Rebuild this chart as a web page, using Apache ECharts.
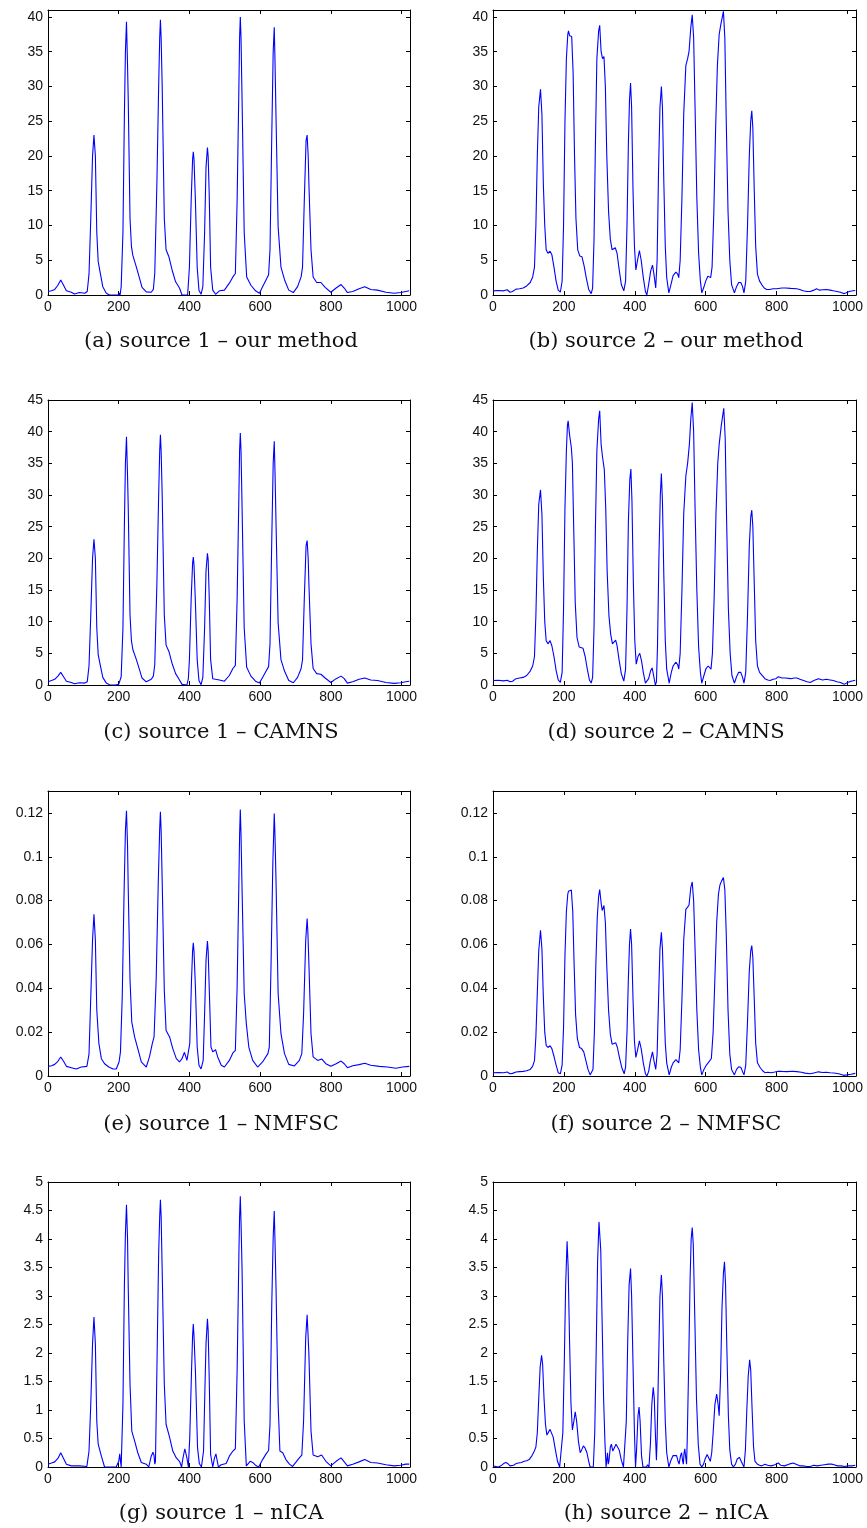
<!DOCTYPE html>
<html>
<head>
<meta charset="utf-8">
<script src="https://cdn.jsdelivr.net/npm/echarts@6/dist/echarts.min.js"></script>
<style>
html,body{margin:0;padding:0;background:#fff;}
#chart{width:867px;height:1528px;}
</style>
</head>
<body>
<div id="chart"></div>
<script>
// ---------------- data ----------------
const captions = ['(a) source 1 – our method', '(b) source 2 – our method',
  '(c) source 1 – CAMNS', '(d) source 2 – CAMNS',
  '(e) source 1 – NMFSC', '(f) source 2 – NMFSC',
  '(g) source 1 – nICA', '(h) source 2 – nICA'];
const xMax = 1024;
const xStep = 200;
const yMax = [41, 41, 45, 45, 0.13, 0.13, 5, 5];
const yStep = [5, 5, 5, 5, 0.02, 0.02, 0.5, 0.5];

const src1Ours = [[0,0.5],[10,0.6],[19,0.8],[28,1.4],[36,2.15],[44,1.4],[52,0.6],[66,0.4],[75,0.15],[89,0.35],[104,0.25],[111,0.5],[116,3],[121,11],[126,20],[130,23],[134,20],[138,9],[142,4.8],[148,3.1],[155,1.2],[165,0.25],[174,0],[200,0],[202,0.3],[204,0],[207,1.2],[212,9],[216,25.6],[219,35],[222,39.3],[225,33],[227,28],[232,11],[236,7],[240,5.7],[250,4],[259,2.4],[266,1.1],[278,0.45],[292,0.4],[298,0.8],[302,3.1],[308,16],[313,30],[316,37],[318,39.6],[320,37],[323,30],[329,11],[334,6.5],[342,5.5],[351,3.6],[361,1.9],[372,1],[379,0],[395,0],[400,4],[405,13.6],[409,19.5],[411,20.6],[413,19.5],[417,13.6],[422,4],[427,0.7],[433,0.1],[438,1.2],[443,9],[447,18.4],[451,21.2],[453,20],[456,14.6],[460,4],[466,0.7],[474,0.1],[485,0.6],[499,0.7],[513,1.7],[523,2.6],[530,3.1],[535,13.6],[540,30],[542,37],[544,40],[546,37],[549,28],[555,9],[562,2.6],[574,1.4],[587,0.6],[598,0.25],[607,1.2],[617,2.2],[624,2.9],[628,6.5],[633,23],[637,35],[640,38.5],[642,34],[645,25.6],[651,9.8],[659,4],[669,2.2],[681,0.7],[694,0.35],[706,1.2],[716,2.6],[720,4],[725,13.6],[730,22.2],[733,23],[736,20],[738,16],[744,6.5],[750,2.6],[760,1.8],[772,1.8],[784,1.1],[800,0.4],[815,1],[829,1.5],[838,1],[847,0.35],[862,0.5],[880,0.9],[896,1.2],[913,0.8],[932,0.7],[956,0.4],[979,0.25],[998,0.35],[1012,0.5],[1022,0.6]];

const src2Ours = [[0,0.6],[15,0.65],[30,0.6],[40,0.75],[48,0.4],[55,0.5],[65,0.85],[75,0.9],[85,1.0],[95,1.3],[105,1.8],[112,2.6],[117,4],[121,10],[125,20],[129,27],[134,29.6],[138,26],[142,16],[146,10],[150,6.5],[155,6],[161,6.3],[166,5.8],[172,4],[178,2],[184,0.7],[190,0.4],[195,2],[199,10],[203,25],[207,34],[211,37.5],[213,38],[216,37.3],[222,37.2],[226,32],[230,20],[234,11],[239,6.5],[245,5.6],[251,5.5],[257,4.2],[263,2.5],[270,0.8],[277,0.2],[281,1],[285,8],[289,22],[293,34],[298,38],[301,38.8],[305,35],[309,34],[313,34.3],[317,30],[321,20],[326,12],[331,8],[336,6.5],[341,6.4],[345,6.8],[350,6],[355,4],[362,1.5],[369,0.6],[374,2],[378,10],[382,22],[385,28],[388,30.5],[391,27],[395,15],[399,7],[403,3.6],[407,4.8],[413,6.4],[418,5],[424,2.5],[430,0.5],[434,0],[439,1.5],[445,3.5],[450,4.3],[454,3],[459,1],[463,5],[467,18],[471,27],[475,30],[478,27],[482,16],[486,7],[490,2.5],[496,0.3],[502,1.5],[508,2.8],[516,3.3],[521,3],[524,2.5],[528,5],[533,14],[538,26],[544,33],[549,34],[553,35],[558,38.5],[562,40.3],[566,37],[570,27],[575,14],[580,6],[585,2],[589,0.3],[594,1],[600,2],[606,2.7],[610,2.8],[614,2.5],[618,4],[623,12],[628,24],[633,33],[638,37.5],[643,39],[650,40.8],[654,37],[658,25],[663,12],[668,5],[673,1.5],[681,0.3],[687,1.2],[693,1.8],[699,1.8],[704,1.2],[708,0.3],[713,2],[718,10],[723,20],[727,25],[730,26.5],[733,24],[737,15],[741,7],[746,3],[752,2],[758,1.5],[765,1],[772,0.8],[780,0.8],[790,0.9],[800,0.9],[805,1.1],[815,1.0],[825,1.0],[840,0.95],[857,0.9],[865,0.8],[875,0.6],[885,0.5],[895,0.5],[905,0.7],[913,0.9],[920,0.7],[930,0.75],[940,0.8],[951,0.7],[960,0.6],[970,0.5],[980,0.4],[989,0.2],[995,0.3],[1005,0.5],[1015,0.6],[1022,0.65]];

const src1Camns = [[0,0.5],[10,0.7],[19,0.9],[28,1.4],[36,2.0],[44,1.3],[52,0.6],[66,0.4],[75,0.2],[89,0.35],[104,0.3],[111,0.5],[116,3],[121,11],[126,20],[130,23],[134,20],[138,9],[142,4.8],[148,3.1],[155,1.2],[165,0.3],[174,0.05],[190,0],[200,0.1],[204,0.4],[207,1.3],[212,9],[216,25],[219,35],[222,39.2],[225,33],[227,28],[232,11],[236,7],[240,5.6],[250,4],[259,2.4],[266,1.1],[278,0.5],[292,0.9],[298,1.4],[302,3.2],[308,16],[313,30],[316,37],[318,39.5],[320,37],[323,30],[329,11],[334,6.3],[342,5.3],[351,3.4],[361,1.8],[372,0.8],[379,0.1],[393,0],[397,1],[400,4],[405,13.6],[409,19.2],[411,20.2],[413,19],[417,13],[422,4],[427,0.7],[433,0.05],[438,1.2],[443,9],[447,18],[451,20.8],[453,19.8],[456,14],[460,4],[466,1.0],[474,0.9],[485,0.8],[499,0.6],[513,1.5],[523,2.6],[530,3.1],[535,13.6],[540,30],[542,37],[544,39.8],[546,37],[549,28],[555,9],[562,2.8],[574,1.4],[587,0.6],[598,0.3],[607,1.2],[617,2.2],[624,2.9],[628,6.5],[633,23],[637,35],[640,38.5],[642,34],[645,25.6],[651,9.8],[659,4],[669,2.2],[681,0.7],[694,0.35],[706,1.2],[716,2.6],[720,4],[725,13.6],[730,22],[733,22.8],[736,20],[738,16],[744,6.5],[750,2.6],[760,1.8],[772,1.7],[784,1.1],[800,0.4],[815,1],[829,1.4],[838,1],[847,0.3],[862,0.5],[880,0.9],[896,1.1],[913,0.8],[932,0.7],[956,0.4],[979,0.25],[998,0.35],[1012,0.5],[1022,0.6]];

const src2Camns = [[0,0.7],[15,0.75],[30,0.65],[40,0.75],[48,0.5],[55,0.6],[65,1.0],[75,1.1],[85,1.2],[95,1.5],[105,2.2],[112,3],[117,4.5],[121,11],[125,21],[129,28.5],[134,30.8],[138,27],[142,17],[146,10],[150,7],[155,6.5],[161,7],[166,6.2],[172,4.5],[178,2.3],[184,0.8],[190,0.4],[195,2],[199,12],[203,28],[207,37],[210,41],[212,41.7],[216,39.5],[221,37.5],[224,35],[228,24],[232,13],[237,7.5],[243,6],[248,5.8],[254,5.8],[260,4.5],[266,2.5],[272,0.8],[277,0.3],[281,1.2],[285,9],[289,25],[293,37],[298,42],[301,43.3],[305,38],[309,36],[314,34],[318,28],[322,18],[327,11],[332,8],[337,6.5],[341,6.6],[346,7.1],[350,6.2],[355,4.2],[362,1.8],[369,0.6],[374,2.5],[378,12],[382,26],[386,32.5],[389,34.1],[392,29],[396,16],[400,7],[404,3.3],[409,4.5],[414,5],[419,3.8],[424,2],[430,0.3],[434,0],[439,1],[445,2.3],[449,2.7],[453,1.5],[458,0],[461,0.5],[464,6],[468,20],[472,30],[475,33.4],[478,29],[482,17],[486,7],[490,2.5],[497,0.3],[503,2],[508,3],[516,3.6],[521,3.2],[524,2.5],[528,5],[533,15],[538,27],[544,33],[549,35],[554,38],[558,42],[562,44.6],[566,40],[570,28],[575,15],[580,6],[585,2],[589,0.3],[595,1.5],[601,2.6],[607,3],[612,3],[615,2.5],[619,5],[624,14],[629,27],[634,35],[638,38],[644,41],[651,43.7],[655,39],[659,26],[664,12],[669,5],[674,1.5],[681,0.3],[687,1.3],[693,2],[699,2],[704,1.2],[708,0.3],[713,2],[718,11],[723,22],[727,26.5],[730,27.6],[733,25],[737,16],[741,7],[746,3],[752,2],[758,1.6],[767,1.0],[775,0.8],[782,0.7],[790,0.9],[798,1.0],[805,1.3],[815,1.1],[825,1.1],[840,1.0],[850,1.1],[857,1.1],[866,0.9],[876,0.7],[886,0.5],[895,0.4],[905,0.7],[918,1.0],[930,0.8],[940,0.9],[951,0.8],[960,0.7],[970,0.5],[980,0.4],[991,0.1],[1000,0.4],[1010,0.6],[1022,0.75]];

const src1Nmfsc = [[0,0.0044],[10,0.0047],[19,0.0053],[28,0.0067],[36,0.0087],[44,0.0067],[52,0.0044],[66,0.0038],[80,0.0032],[94,0.0041],[110,0.0044],[116,0.010],[121,0.036],[126,0.062],[130,0.0738],[134,0.062],[138,0.030],[144,0.0148],[151,0.0079],[160,0.0056],[172,0.0041],[184,0.0032],[193,0.0032],[201,0.0064],[205,0.011],[210,0.036],[215,0.082],[219,0.112],[222,0.121],[225,0.105],[227,0.085],[232,0.044],[237,0.0246],[245,0.0178],[254,0.0125],[264,0.0064],[278,0.0041],[287,0.0087],[295,0.0148],[300,0.0178],[306,0.044],[312,0.089],[316,0.113],[318,0.1205],[320,0.112],[323,0.089],[329,0.039],[334,0.0208],[344,0.0178],[353,0.0125],[363,0.0079],[372,0.0064],[379,0.0079],[386,0.0108],[393,0.0071],[397,0.0064],[401,0.0148],[406,0.044],[409,0.057],[411,0.0608],[413,0.057],[417,0.0406],[422,0.0132],[427,0.0049],[433,0.0032],[439,0.0071],[443,0.0284],[447,0.0528],[451,0.0616],[453,0.057],[456,0.0406],[461,0.0132],[466,0.011],[474,0.012],[480,0.0087],[490,0.0049],[499,0.0041],[513,0.0071],[523,0.0105],[530,0.0117],[535,0.0406],[540,0.089],[542,0.110],[544,0.1215],[546,0.110],[549,0.0847],[555,0.0376],[561,0.0239],[568,0.0132],[579,0.0071],[593,0.0041],[607,0.0064],[622,0.0102],[626,0.0132],[631,0.0513],[636,0.0969],[640,0.1197],[642,0.110],[645,0.089],[651,0.0376],[659,0.0193],[669,0.0102],[681,0.0053],[697,0.0046],[711,0.0071],[718,0.0102],[723,0.0284],[729,0.0619],[733,0.0718],[735,0.066],[738,0.0513],[744,0.0193],[750,0.0087],[763,0.0071],[774,0.0078],[786,0.0056],[800,0.0044],[815,0.0056],[829,0.0068],[838,0.0056],[847,0.0038],[862,0.0047],[880,0.0052],[896,0.0058],[913,0.0049],[937,0.0044],[960,0.0041],[984,0.0035],[1003,0.0041],[1022,0.0044]];

const src2Nmfsc = [[0,0.0015],[15,0.0016],[30,0.0015],[40,0.0018],[48,0.001],[55,0.0012],[65,0.0018],[75,0.002],[85,0.0021],[95,0.0024],[105,0.003],[112,0.0045],[117,0.007],[121,0.018],[125,0.038],[129,0.057],[134,0.0665],[138,0.058],[142,0.036],[146,0.02],[150,0.014],[155,0.013],[161,0.0138],[166,0.0125],[172,0.009],[178,0.005],[184,0.0015],[190,0.001],[195,0.005],[199,0.022],[203,0.055],[207,0.075],[211,0.083],[213,0.0843],[217,0.0838],[221,0.0848],[225,0.075],[229,0.05],[233,0.028],[238,0.017],[244,0.013],[250,0.0125],[256,0.011],[262,0.007],[268,0.003],[274,0.0005],[278,0.0005],[282,0.003],[286,0.02],[290,0.05],[294,0.072],[298,0.082],[301,0.085],[305,0.079],[308,0.0755],[313,0.0778],[317,0.07],[321,0.05],[326,0.03],[331,0.019],[336,0.0145],[341,0.0145],[346,0.0152],[351,0.013],[356,0.009],[363,0.004],[370,0.001],[374,0.004],[378,0.02],[382,0.045],[385,0.06],[388,0.067],[391,0.06],[395,0.035],[399,0.016],[403,0.0085],[408,0.012],[413,0.016],[418,0.0125],[424,0.006],[430,0.001],[434,0],[439,0.002],[444,0.007],[450,0.011],[454,0.007],[459,0.003],[463,0.01],[467,0.035],[471,0.058],[475,0.0655],[478,0.058],[482,0.035],[486,0.015],[490,0.006],[497,0.0005],[503,0.004],[508,0.006],[516,0.0075],[521,0.0068],[524,0.006],[528,0.012],[533,0.035],[538,0.062],[544,0.076],[549,0.077],[553,0.078],[558,0.086],[562,0.0885],[566,0.08],[570,0.058],[575,0.03],[580,0.012],[585,0.004],[589,0.0005],[595,0.003],[602,0.005],[608,0.0062],[612,0.006],[616,0.008],[621,0.02],[626,0.045],[631,0.07],[636,0.083],[640,0.087],[645,0.089],[650,0.0905],[654,0.085],[658,0.065],[663,0.03],[668,0.01],[673,0.003],[681,0.0005],[687,0.003],[693,0.0042],[699,0.004],[704,0.002],[708,0.0005],[713,0.005],[718,0.025],[723,0.048],[727,0.057],[730,0.0595],[733,0.054],[737,0.035],[741,0.015],[746,0.006],[753,0.004],[760,0.0025],[767,0.0015],[775,0.0017],[785,0.0015],[795,0.0018],[805,0.0022],[815,0.0021],[830,0.002],[845,0.0022],[857,0.002],[870,0.0017],[880,0.0013],[895,0.001],[905,0.0014],[918,0.0019],[930,0.0016],[940,0.0017],[951,0.0015],[962,0.0014],[975,0.001],[989,0.0003],[998,0.0005],[1010,0.0008],[1022,0.0012]];

const src1Nica = [[0,0.05],[10,0.07],[19,0.09],[28,0.15],[36,0.25],[44,0.15],[52,0.05],[66,0.02],[89,0.02],[110,0.01],[116,0.28],[121,1.1],[126,2.16],[130,2.63],[134,2.16],[138,0.8],[142,0.4],[151,0.19],[160,0],[193,0],[200,0.1],[203,0.23],[205,0.1],[207,0],[212,1.1],[216,3.15],[219,4.1],[222,4.6],[225,4.0],[227,3.15],[232,1.45],[237,0.63],[245,0.46],[254,0.25],[264,0.08],[278,0.05],[285,0],[292,0.19],[297,0.26],[300,0.2],[302,0.05],[304,0.1],[308,1.69],[313,3.74],[316,4.4],[318,4.69],[320,4.4],[323,3.45],[329,1.45],[334,0.75],[344,0.52],[353,0.28],[363,0.16],[372,0.1],[378,0],[381,0.13],[387,0.32],[393,0.16],[397,0],[401,0.52],[406,1.69],[409,2.3],[411,2.51],[413,2.3],[417,1.69],[423,0.34],[428,0.06],[434,0],[440,0.28],[444,1.4],[447,2.16],[451,2.6],[453,2.4],[456,1.57],[460,0.22],[466,0],[471,0.16],[475,0.23],[479,0.1],[482,0],[490,0.04],[504,0.06],[513,0.19],[523,0.28],[530,0.32],[535,1.69],[540,3.74],[542,4.4],[544,4.75],[546,4.3],[549,3.45],[555,0.81],[561,0.02],[565,0],[572,0.1],[579,0.08],[589,0.02],[596,0],[607,0.13],[617,0.23],[624,0.29],[628,0.75],[633,2.86],[637,4.03],[640,4.49],[642,4.0],[645,3.15],[651,1.1],[656,0.28],[664,0.25],[673,0.13],[683,0.05],[692,0.01],[702,0.09],[711,0.16],[718,0.21],[723,0.81],[729,2.27],[733,2.67],[735,2.4],[738,1.98],[744,0.63],[750,0.21],[763,0.18],[774,0.21],[786,0.1],[800,0.02],[815,0.1],[829,0.16],[838,0.09],[847,0.02],[862,0.05],[880,0.09],[896,0.13],[913,0.08],[932,0.07],[956,0.04],[979,0.02],[998,0.03],[1012,0.05],[1022,0.05]];

const src2Nica = [[0,0.02],[8,0.01],[15,0],[22,0.02],[30,0.06],[36,0.08],[42,0.06],[48,0.02],[52,0],[58,0.03],[65,0.06],[72,0.07],[80,0.08],[88,0.1],[95,0.11],[102,0.13],[110,0.2],[116,0.27],[121,0.35],[125,0.6],[129,1.2],[133,1.75],[137,1.96],[140,1.8],[144,1.2],[148,0.75],[152,0.56],[156,0.58],[161,0.66],[165,0.64],[170,0.52],[176,0.3],[182,0.1],[188,0],[193,0],[197,0.6],[201,1.8],[205,3.2],[209,3.96],[212,3.5],[216,2.2],[220,1.1],[224,0.65],[228,0.8],[232,0.97],[236,0.8],[241,0.45],[246,0.25],[250,0.3],[255,0.37],[260,0.33],[265,0.25],[270,0.1],[274,0],[283,0],[287,0.6],[291,2],[295,3.6],[299,4.3],[301,4.33],[304,3.8],[308,2.5],[312,1.2],[316,0.4],[319,0],[321,0],[323,0.25],[325,0.05],[327,0.1],[331,0.35],[334,0.4],[338,0.28],[342,0.3],[347,0.4],[351,0.38],[356,0.3],[362,0.12],[368,0],[372,0],[376,0.8],[380,2.2],[384,3.2],[388,3.48],[391,3],[395,1.8],[399,0.6],[402,0],[405,0.3],[409,0.9],[412,1.05],[415,0.8],[419,0.2],[423,0],[433,0],[436,0.04],[438,0.06],[440,0],[444,0.4],[448,1.1],[452,1.4],[455,1.2],[458,0.6],[461,0.12],[463,0.5],[467,1.8],[471,3],[475,3.37],[478,3],[482,1.8],[486,0.8],[490,0.25],[496,0],[502,0.12],[508,0.2],[513,0.22],[518,0.2],[522,0.1],[525,0.05],[529,0.2],[532,0.25],[535,0.1],[537,0.05],[539,0.25],[541,0.32],[544,0.15],[546,0.05],[548,0.5],[552,1.8],[556,3.3],[559,4.0],[562,4.2],[565,3.9],[569,2.7],[574,1.2],[579,0.4],[584,0.05],[589,0],[594,0.05],[599,0.15],[604,0.22],[608,0.2],[613,0.1],[617,0.25],[621,0.6],[626,1.1],[631,1.28],[635,1.1],[638,0.9],[642,1.6],[646,2.8],[650,3.4],[653,3.6],[656,3.2],[660,2],[664,0.9],[668,0.3],[673,0.05],[678,0],[684,0.05],[689,0.14],[695,0.17],[700,0.15],[704,0.05],[708,0],[712,0.3],[716,1],[720,1.6],[724,1.88],[727,1.7],[731,1],[735,0.35],[739,0.1],[742,0.12],[746,0.05],[752,0.03],[758,0.02],[767,0.05],[775,0.03],[785,0.02],[795,0.04],[805,0.07],[812,0.03],[822,0.02],[835,0.05],[847,0.07],[855,0.05],[865,0.02],[875,0.02],[885,0.01],[895,0.01],[905,0.03],[915,0.02],[925,0.03],[935,0.04],[946,0.05],[955,0.05],[962,0.04],[972,0.02],[982,0.02],[992,0.01],[1002,0.02],[1012,0.02],[1022,0.03]];

const seriesData = [src1Ours, src2Ours, src1Camns, src2Camns, src1Nmfsc, src2Nmfsc, src1Nica, src2Nica];

// ---------------- layout ----------------
const colLeft = [48, 493];
const colWidth = [362, 363];
const rowTop = [10, 400, 791, 1182];
const plotH = 285;
const capX = [221, 666];
const capY = [342, 733, 1125, 1514];

const chart = echarts.init(document.getElementById('chart'), null, {renderer: 'canvas'});
const grids = [], xAxes = [], yAxes = [], series = [], graphics = [];
const lineC = '#000';
const labelFont = {fontFamily: '"Liberation Sans", Arial, sans-serif', fontSize: 14, color: '#111'};
const fmt = v => String(+(+v).toFixed(4));

for (let i = 0; i < 8; i++) {
  const r = Math.floor(i / 2), c = i % 2;
  grids.push({left: colLeft[c], top: rowTop[r], width: colWidth[c], height: plotH, containLabel: false});
  const showYMax = Math.abs(yMax[i] / yStep[i] - Math.round(yMax[i] / yStep[i])) < 1e-6;
  const common = {axisLine: {show: true, onZero: false, lineStyle: {color: lineC, width: 1}},
                  axisTick: {show: true, inside: true, length: 4, lineStyle: {color: lineC, width: 1}},
                  splitLine: {show: false}};
  xAxes.push(Object.assign({gridIndex: i, type: 'value', min: 0, max: xMax, interval: xStep, position: 'bottom',
    axisLabel: Object.assign({show: true, margin: 5, showMaxLabel: false, formatter: fmt}, labelFont)}, common));
  xAxes.push(Object.assign({gridIndex: i, type: 'value', min: 0, max: xMax, interval: xStep, position: 'top',
    axisLabel: {show: false}}, common));
  yAxes.push(Object.assign({gridIndex: i, type: 'value', min: 0, max: yMax[i], interval: yStep[i], position: 'left',
    axisLabel: Object.assign({show: true, margin: 5, showMaxLabel: showYMax, formatter: fmt}, labelFont)}, common));
  yAxes.push(Object.assign({gridIndex: i, type: 'value', min: 0, max: yMax[i], interval: yStep[i], position: 'right',
    axisLabel: {show: false}}, common));
  series.push({type: 'line', xAxisIndex: 2 * i, yAxisIndex: 2 * i, data: seriesData[i],
    showSymbol: false, symbol: 'none', smooth: false, clip: true,
    lineStyle: {color: '#0000ff', width: 1.1}, animation: false});
  graphics.push({type: 'text', x: capX[c], y: capY[r],
    style: {text: captions[i], font: '21px "DejaVu Serif", serif', fill: '#111',
      textAlign: 'center', align: 'center', textVerticalAlign: 'middle', verticalAlign: 'middle'}});
}

chart.setOption({
  animation: false,
  backgroundColor: '#fff',
  grid: grids, xAxis: xAxes, yAxis: yAxes, series: series, graphic: graphics
});
</script>
</body>
</html>
